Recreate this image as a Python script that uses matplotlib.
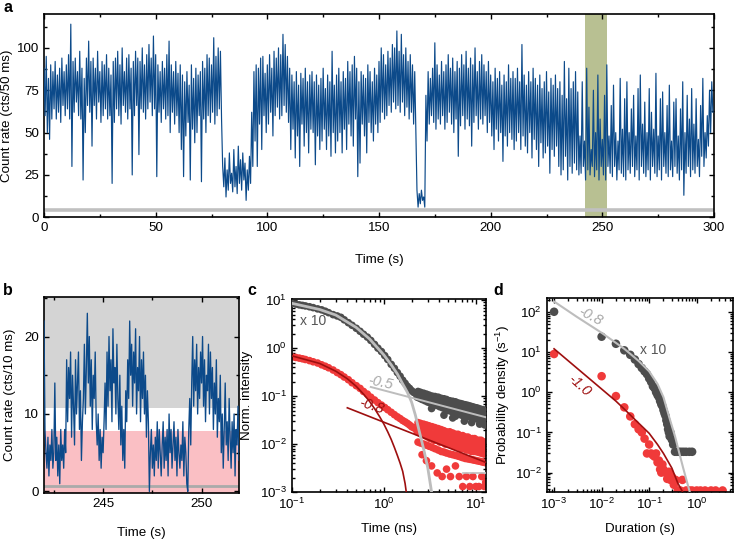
import numpy as np
import matplotlib
matplotlib.use('Agg')
import matplotlib.pyplot as plt
from matplotlib.ticker import MultipleLocator, LogLocator, NullFormatter, LogFormatterMathtext

plt.rcParams['font.family'] = ['Liberation Sans', 'DejaVu Sans']
plt.rcParams['mathtext.fontset'] = 'custom'
plt.rcParams['mathtext.rm'] = 'Liberation Sans'
plt.rcParams['mathtext.it'] = 'Liberation Sans:italic'
plt.rcParams['font.size'] = 9.6

# ---------------- Panel a: count-rate trace (0.5 s samples) -------------
rate_a_000_050 = [88,60, 95,50, 82,46, 90,58, 86,64, 92,58, 84,62, 88,56, 94,66, 86,60,
                  90,64, 96,58, 114,30, 92,62, 94,68, 86,60, 98,58, 88,22, 82,50, 94,66,
                  104,62, 92,42, 94,66, 88,58, 98,68, 86,56, 92,60, 90,64, 96,58, 88,60,
                  84,20, 92,56, 94,64, 98,60, 90,55, 100,66, 86,62, 94,58, 96,64, 88,25,
                  92,60, 98,66, 94,37, 92,64, 100,62, 90,58, 96,64, 102,68, 94,60, 107,64]
rate_a_050_100 = [96,24, 90,62, 86,56, 92,64, 88,58, 96,60, 104,50, 90,62, 86,55, 92,60,
                  85,50, 90,40, 84,24, 80,48, 86,56, 78,22, 90,52, 82,44, 88,50, 84,60,
                  86,21, 92,58, 88,50, 96,60, 94,56, 90,62, 106,55, 95,60, 100,64, 98,58,
                  30,18, 35,12, 28,16, 38,20, 26,15, 40,18, 30,14, 42,20, 34,16, 38,22,
                  32,10, 28,16, 36,20, 62,30, 86,45, 90,30, 88,55, 94,40, 95,60, 85,50]
rate_a_100_150 = [90,55, 96,62, 88,48, 98,60, 94,65, 100,58, 96,60, 108,66, 102,62, 95,56,
                  88,40, 84,52, 80,35, 86,48, 78,30, 85,55, 82,42, 88,50, 80,38, 84,52,
                  86,50, 80,31, 84,48, 78,40, 82,45, 88,52, 76,40, 84,48, 80,36, 98,50,
                  78,38, 84,45, 88,50, 80,38, 86,52, 82,40, 92,55, 86,48, 90,42, 95,58,
                  88,24, 80,32, 86,55, 84,48, 82,38, 90,56, 86,50, 80,45, 88,55, 84,50]
rate_a_150_200 = [92,56, 100,62, 96,58, 90,60, 98,66, 94,62, 102,68, 100,64, 110,66, 98,62,
                  108,68, 96,60, 100,65, 92,58, 96,62, 90,55, 86,50, 16,6, 14,8, 16,10,
                  12,6, 72,45, 86,55, 82,60, 88,56, 103,52, 90,58, 84,55, 92,60, 86,52,
                  90,56, 96,62, 88,55, 94,50, 86,58, 92,36, 88,54, 96,60, 90,52, 98,58,
                  88,54, 94,42, 90,56, 100,60, 86,52, 92,58, 96,55, 90,60, 86,50, 92,56]
rate_a_200_250 = [84,48, 80,40, 88,52, 82,45, 86,50, 78,33, 84,48, 80,42, 90,50, 82,46,
                  86,40, 82,45, 88,50, 80,40, 102,48, 84,42, 78,38, 86,50, 80,35, 88,46,
                  82,40, 78,30, 84,44, 76,35, 80,38, 86,42, 74,26, 82,40, 78,36, 84,42,
                  76,30, 80,25, 72,28, 92,36, 70,22, 88,30, 76,26, 80,32, 86,28, 74,25,
                  48,26, 80,30, 45,22, 88,28, 65,25, 40,30, 75,24, 50,28, 84,22, 58,30]
rate_a_250_300 = [46,25, 72,22, 90,30, 48,26, 66,24, 78,30, 50,22, 45,28, 82,26, 52,24,
                  70,22, 80,28, 50,26, 64,30, 72,24, 48,28, 76,22, 84,30, 55,26, 68,24,
                  50,28, 76,22, 62,30, 52,26, 85,24, 48,28, 70,22, 74,30, 50,26, 66,24,
                  78,28, 45,24, 68,30, 70,26, 48,22, 64,28, 80,13, 50,26, 72,30, 58,24,
                  76,28, 55,26, 70,30, 46,24, 66,36, 82,30, 50,35, 60,42, 75,50, 80,62]
a_dt = 0.5
a_xticks = [0, 50, 100, 150, 200, 250, 300]
a_yticks = [0, 25, 50, 75, 100]
a_window = [242.2, 252.1]
a_background = 4.2

# ---------------- Panel b: zoomed trace (50 ms samples) -------------
b_t0 = 242.0
b_dt = 0.05
rate_b = [22,8,5,3,7,2,6,4,8,3,5,14,4,7,2,6,1,8,4,6,
          3,8,5,17,9,16,12,18,7,15,11,6,17,10,14,18,8,13,4,9,
          12,19,10,16,23,14,20,11,17,8,15,12,18,9,6,10,4,8,3,7,
          5,9,14,8,18,11,20,13,17,9,21,14,16,10,19,12,8,15,6,11,
          4,8,3,13,9,17,12,22,15,19,11,18,14,21,10,16,13,20,9,17,
          12,18,10,15,7,13,9,0,5,8,3,6,2,7,4,9,3,8,5,2,
          6,9,3,7,4,8,2,10,5,8,3,6,9,4,7,2,8,5,3,6,
          4,9,2,7,5,1,0,8,12,6,14,20,11,17,13,19,10,16,12,18,
          14,20,11,17,9,15,13,19,10,18,12,16,8,14,10,17,7,12,9,15,
          5,10,3,8,14,6,9,4,12,7,3,9,5,10,2,8,6,11,4,7]
b_on_threshold = 10.8
b_off_threshold = 7.8
b_background = 0.7

# ---------------- Panel c: decay curves -------------
c_early_t = [0.1, 0.11, 0.12, 0.13, 0.14, 0.155, 0.17, 0.19, 0.21, 0.23, 0.25, 0.28, 0.31, 0.34,
             0.37, 0.41, 0.45, 0.5, 0.55, 0.6, 0.66, 0.72, 0.79, 0.86, 0.94, 1.02, 1.1, 1.2,
             1.3, 1.4, 1.5, 1.6, 1.7, 1.8, 1.9, 2.0, 2.1, 2.2]
c_gray_early = [8.6, 8.3, 8.0, 7.8, 7.6, 7.3, 7.0, 6.6, 6.3, 5.9, 5.5, 5.0, 4.7, 4.4,
                3.9, 3.4, 3.0, 2.6, 2.25, 1.95, 1.7, 1.45, 1.2, 1.0, 0.85, 0.7, 0.58, 0.46,
                0.38, 0.31, 0.26, 0.215, 0.185, 0.16, 0.145, 0.13, 0.12, 0.115]
c_red_early = [0.66, 0.64, 0.62, 0.6, 0.58, 0.55, 0.52, 0.49, 0.45, 0.42, 0.39, 0.35, 0.31, 0.28,
               0.25, 0.22, 0.19, 0.165, 0.145, 0.125, 0.11, 0.095, 0.083, 0.073, 0.065, 0.058,
               0.052, 0.046, 0.041, 0.037, 0.034, 0.031, 0.029, 0.027, 0.025, 0.023, 0.022, 0.021]
c_tail_t1 = [2.35, 2.5, 2.7, 2.9, 3.1, 3.35, 3.6, 3.9, 4.2, 4.5, 4.8, 5.2, 5.6, 6.0,
             6.4, 6.8, 7.2, 7.7, 8.2, 8.7, 9.2, 9.7, 10.2, 10.8, 11.4, 12.0, 12.6]
c_tail_t2 = [2.3, 2.45, 2.6, 2.8, 3.0, 3.2, 3.5, 3.75, 4.05, 4.35, 4.65, 5.0, 5.4, 5.8,
             6.2, 6.6, 7.0, 7.45, 7.95, 8.45, 8.95, 9.45, 9.95, 10.5, 11.1, 11.7, 12.3]
c_gray_tail1 = [0.125, 0.12, 0.115, 0.11, 0.105, 0.1, 0.098, 0.095, 0.09, 0.088, 0.085, 0.08,
                0.078, 0.076, 0.072, 0.07, 0.068, 0.066, 0.064, 0.062, 0.06, 0.058, 0.057,
                0.055, 0.053, 0.052, 0.05]
c_gray_tail2 = [0.095, 0.09, 0.085, 0.08, 0.075, 0.072, 0.068, 0.064, 0.06, 0.057, 0.054, 0.05,
                0.048, 0.046, 0.044, 0.042, 0.04, 0.039, 0.038, 0.037, 0.036, 0.035, 0.034,
                0.033, 0.032, 0.031, 0.03]
c_gray_tail3 = [0.11, 0.105, 0.1, 0.095, 0.09, 0.086, 0.082, 0.079, 0.075, 0.072, 0.069, 0.065,
                0.062, 0.06, 0.058, 0.055, 0.053, 0.052, 0.05, 0.049, 0.047, 0.046, 0.045,
                0.044, 0.042, 0.041, 0.04]
c_gray_out_t = [3.3, 4.5, 5.6, 6.0, 7.5, 9.0, 11.0, 12.5]
c_gray_out_y = [0.055, 0.04, 0.035, 0.038, 0.03, 0.028, 0.026, 0.025]
c_red_tail1 = [0.028, 0.027, 0.026, 0.025, 0.024, 0.023, 0.022, 0.021, 0.02, 0.019, 0.018, 0.018,
               0.017, 0.016, 0.016, 0.015, 0.015, 0.014, 0.014, 0.013, 0.013, 0.013, 0.012,
               0.012, 0.012, 0.011, 0.011]
c_red_tail2 = [0.018, 0.017, 0.016, 0.015, 0.014, 0.013, 0.012, 0.012, 0.011, 0.011, 0.01, 0.01,
               0.0095, 0.009, 0.009, 0.0085, 0.008, 0.008, 0.0075, 0.0075, 0.007, 0.007, 0.007,
               0.0068, 0.0066, 0.0064, 0.0062]
c_red_tail3 = [0.011, 0.0105, 0.01, 0.0095, 0.009, 0.0085, 0.008, 0.0075, 0.007, 0.0068, 0.0065,
               0.0062, 0.006, 0.0058, 0.0056, 0.0054, 0.0052, 0.005, 0.0049, 0.0048, 0.0047,
               0.0046, 0.0045, 0.0044, 0.0043, 0.0042, 0.0041]
c_red_tail4 = [0.022, 0.021, 0.02, 0.019, 0.018, 0.017, 0.016, 0.016, 0.015, 0.014, 0.014, 0.013,
               0.013, 0.012, 0.012, 0.011, 0.011, 0.0105, 0.01, 0.01, 0.0098, 0.0095, 0.0092,
               0.009, 0.0088, 0.0085, 0.0082]
c_red_low_t = [2.6, 2.9, 3.3, 3.8, 4.3, 4.8, 5.3, 6.0, 6.6, 7.2, 7.9, 8.6, 9.3, 10.0, 10.8,
               11.6, 12.4, 12.8]
c_red_low_y = [0.006, 0.0045, 0.0035, 0.0025, 0.0021, 0.003, 0.0021, 0.0035, 0.0021, 0.0013,
               0.0021, 0.0013, 0.0021, 0.0013, 0.0013, 0.0021, 0.0013, 0.0016]
# fit lines
c_gray_fit_t = [0.1, 0.2, 0.3, 0.5, 0.7, 1.0, 1.2, 1.4, 1.6, 1.8, 2.0, 2.2, 2.4, 2.7, 3.0, 3.3]
c_gray_fit_y = [8.6, 6.4, 4.9, 2.7, 1.55, 0.72, 0.45, 0.29, 0.18, 0.12, 0.075, 0.04, 0.02,
                0.008, 0.0032, 0.001]
c_gray_pow_t = [0.72, 13.0]
c_gray_pow_y = [0.155, 0.036]
c_gray_floor_t = [7.2, 13.0]
c_gray_floor_y = [0.00245, 0.00245]
c_red_fit_t = [0.1, 0.2, 0.3, 0.4, 0.5, 0.6, 0.7, 0.8, 0.9, 1.0, 1.1, 1.2, 1.3, 1.4, 1.5, 1.6,
               1.7, 1.75]
c_red_fit_y = [0.69, 0.48, 0.33, 0.23, 0.16, 0.11, 0.077, 0.053, 0.037, 0.026, 0.018, 0.0125,
               0.0085, 0.0058, 0.004, 0.0027, 0.0015, 0.001]
c_red_pow_t = [0.4, 13.0]
c_red_pow_y = [0.057, 0.0041]

# ---------------- Panel d: duration histograms -------------
d_gray_x = [0.001, 0.01, 0.02, 0.03, 0.04, 0.05, 0.06, 0.07, 0.08, 0.09, 0.10, 0.11, 0.12,
            0.13, 0.14, 0.15, 0.16, 0.17, 0.18, 0.19, 0.20, 0.21, 0.22, 0.23, 0.24, 0.25,
            0.26, 0.27, 0.28, 0.30, 0.32, 0.35, 0.38, 0.42, 0.47, 0.53, 0.6, 0.7, 0.8]
d_gray_y = [100, 24, 16, 11, 8.5, 6.5, 5.0, 4.0, 3.3, 2.8, 2.2, 1.8, 1.4, 1.25, 1.0, 0.85,
            0.75, 0.6, 0.5, 0.45, 0.36, 0.3, 0.26, 0.2, 0.16, 0.12, 0.1, 0.08, 0.1, 0.066,
            0.05, 0.033, 0.033, 0.033, 0.033, 0.033, 0.033, 0.033, 0.033]
d_red_x = [0.001, 0.01, 0.02, 0.03, 0.04, 0.05, 0.06, 0.07, 0.08, 0.09, 0.10, 0.11, 0.12,
           0.13, 0.14, 0.15, 0.16, 0.17, 0.18, 0.19, 0.20, 0.22, 0.24, 0.26, 0.28, 0.30, 0.33,
           0.36, 0.40, 0.45, 0.5, 0.6, 0.7, 0.8, 1.0, 1.2, 1.5, 2.0, 2.5, 3.5]
d_red_y = [8.9, 2.5, 0.8, 0.42, 0.25, 0.16, 0.12, 0.1, 0.07, 0.03, 0.05, 0.03, 0.027, 0.025,
           0.03, 0.018, 0.02, 0.012, 0.01, 0.016, 0.012, 0.01, 0.007, 0.0105, 0.0066, 0.0078,
           0.005, 0.0066, 0.0036, 0.0036, 0.0066, 0.0036, 0.0036, 0.0036, 0.0036, 0.0036,
           0.0036, 0.0036, 0.0036, 0.0036]
d_gray_fit_x = [0.001, 0.003, 0.01, 0.03, 0.06, 0.1, 0.15, 0.2, 0.27, 0.35, 0.45, 0.52, 0.6, 0.72]
d_gray_fit_y = [180, 75, 30, 12, 6, 3.3, 1.6, 0.75, 0.22, 0.08, 0.025, 0.013, 0.007, 0.0032]
d_red_fit_x = [0.001, 0.003, 0.01, 0.02, 0.03, 0.05, 0.1, 0.15, 0.2, 0.3, 0.4, 0.5]
d_red_fit_y = [12, 4, 1.2, 0.6, 0.38, 0.21, 0.095, 0.05, 0.03, 0.013, 0.0055, 0.0034]

# ---------------- styles -------------
BLUE = '#0c4a8a'
DGRAY = '#4d4d4d'
LGRAY = '#bdbdbd'
RED = '#f03a3a'
DRED = '#9e0f0f'

W, H = 736, 550
fig = plt.figure(figsize=(W / 100, H / 100), dpi=100)


def px_axes(l, t, r, b):
    return fig.add_axes([l / W, 1 - b / H, (r - l) / W, (b - t) / H])


def style(ax):
    ax.tick_params(which='both', direction='in', top=True, right=True, width=1.0, pad=3.5)
    ax.tick_params(which='major', length=3.8)
    ax.tick_params(which='minor', length=2.2)
    for s in ax.spines.values():
        s.set_linewidth(1.2)


def logstyle(ax):
    for axis in (ax.xaxis, ax.yaxis):
        axis.set_major_locator(LogLocator(base=10, numticks=20))
        axis.set_minor_locator(LogLocator(base=10, subs=np.arange(2, 10), numticks=20))
        axis.set_minor_formatter(NullFormatter())
        axis.set_major_formatter(LogFormatterMathtext())


# ---- a ----
rate_a = np.array(rate_a_000_050 + rate_a_050_100 + rate_a_100_150 +
                  rate_a_150_200 + rate_a_200_250 + rate_a_250_300, dtype=float)
t_a = np.arange(len(rate_a)) * a_dt
axa = px_axes(44, 14, 714, 217.3)
axa.axvspan(a_window[0], a_window[1], color='#b8c092', zorder=1, lw=0)
axa.axhline(a_background, color='#c0c0c0', lw=2.6, zorder=2)
axa.plot(t_a, rate_a, color=BLUE, lw=0.85, zorder=3)
axa.set_xlim(0, 300)
axa.set_ylim(0, 120)
axa.set_xticks(a_xticks)
axa.set_yticks(a_yticks)
axa.xaxis.set_minor_locator(MultipleLocator(25))
axa.yaxis.set_minor_locator(MultipleLocator(12.5))
style(axa)
axa.set_xlabel('Time (s)', labelpad=14)
axa.set_ylabel('Count rate (cts/50 ms)', labelpad=3)

# ---- b ----
rate_b = np.array(rate_b, dtype=float)
t_b = b_t0 + np.arange(len(rate_b)) * b_dt
axb = px_axes(44, 297, 239, 493)
axb.axhspan(b_on_threshold, 30, color='#d4d4d4', lw=0, zorder=0)
axb.axhspan(-1, b_off_threshold, color='#fabfc4', lw=0, zorder=0)
axb.axhline(b_background, color='#aaaaaa', lw=2.0, zorder=1)
axb.plot(t_b, rate_b, color=BLUE, lw=0.95, zorder=3)
axb.set_xlim(242.0, 251.9)
axb.set_ylim(-0.2, 25.1)
axb.set_xticks([245, 250])
axb.set_yticks([0, 10, 20])
axb.xaxis.set_minor_locator(MultipleLocator(2.5))
axb.yaxis.set_minor_locator(MultipleLocator(5))
style(axb)
axb.set_xlabel('Time (s)', labelpad=12)
axb.set_ylabel('Count rate (cts/10 ms)', labelpad=6)

# ---- c ----
axc = px_axes(292, 299, 486, 492)
axc.set_xscale('log')
axc.set_yscale('log')
ms_c = 30
for yy, tt in [(c_red_early, c_early_t), (c_red_tail1, c_tail_t1), (c_red_tail2, c_tail_t2),
               (c_red_tail3, c_tail_t1), (c_red_tail4, c_tail_t2), (c_red_low_y, c_red_low_t)]:
    axc.scatter(tt, yy, s=ms_c, color=RED, edgecolors='none', zorder=2)
axc.plot(c_red_fit_t, c_red_fit_y, color=DRED, lw=1.2, zorder=3)
axc.plot(c_red_pow_t, c_red_pow_y, color=DRED, lw=1.2, zorder=3)
for yy, tt in [(c_gray_early, c_early_t), (c_gray_tail1, c_tail_t1), (c_gray_tail2, c_tail_t2),
               (c_gray_tail3, c_tail_t2), (c_gray_out_y, c_gray_out_t)]:
    axc.scatter(tt, yy, s=ms_c, color=DGRAY, edgecolors='none', zorder=4)
axc.plot(c_gray_fit_t, c_gray_fit_y, color=LGRAY, lw=2.0, zorder=5)
axc.plot(c_gray_pow_t, c_gray_pow_y, color=LGRAY, lw=1.4, zorder=5)
axc.plot(c_gray_floor_t, c_gray_floor_y, color=LGRAY, lw=1.2, zorder=5)
axc.set_xlim(0.1, 12.9)
axc.set_ylim(1e-3, 10.6)
logstyle(axc)
style(axc)
axc.set_xlabel('Time (ns)', labelpad=8)
axc.set_ylabel('Norm. intensity', labelpad=5)
axc.text(0.122, 3.6, 'x 10', color='#555555', ha='left', va='center', fontsize=10)
axc.text(0.92, 0.19, '-0.5', color='#a8a8a8', ha='center', va='center', fontsize=10.5,
         style='italic', rotation=-12, zorder=6)
axc.text(0.74, 0.062, '-0.8', color=DRED, ha='center', va='center', fontsize=10.5,
         style='italic', rotation=-18, zorder=6)

# ---- d ----
axd = px_axes(547, 298, 733, 492)
axd.set_xscale('log')
axd.set_yscale('log')
ms_d = 38
axd.scatter(d_red_x, d_red_y, s=ms_d, color=RED, edgecolors='none', zorder=2)
axd.plot(d_red_fit_x, d_red_fit_y, color=DRED, lw=1.2, zorder=3)
axd.scatter(d_gray_x, d_gray_y, s=ms_d, color=DGRAY, edgecolors='none', zorder=4)
axd.plot(d_gray_fit_x, d_gray_fit_y, color=LGRAY, lw=1.5, zorder=5)
axd.set_xlim(7.1e-4, 5.8)
axd.set_ylim(3.3e-3, 220)
logstyle(axd)
style(axd)
axd.set_xlabel('Duration (s)', labelpad=8)
axd.set_ylabel('Probability density (s$^{-1}$)', labelpad=2)
axd.text(0.0057, 75, '-0.8', color='#a8a8a8', ha='center', va='center', fontsize=10.5,
         style='italic', rotation=-28, zorder=6)
axd.text(0.065, 11.2, 'x 10', color='#555555', ha='left', va='center', fontsize=10)
axd.text(0.0034, 1.45, '-1.0', color=DRED, ha='center', va='center', fontsize=10.5,
         style='italic', rotation=-42, zorder=6)

# panel letters
for lab, x, y in [('a', 3, 0), ('b', 3, 283), ('c', 247, 283), ('d', 493, 283)]:
    fig.text(x / W, 1 - y / H, lab, fontsize=11.5, fontweight='bold', ha='left', va='top')

fig.savefig('out.png', dpi=100)
